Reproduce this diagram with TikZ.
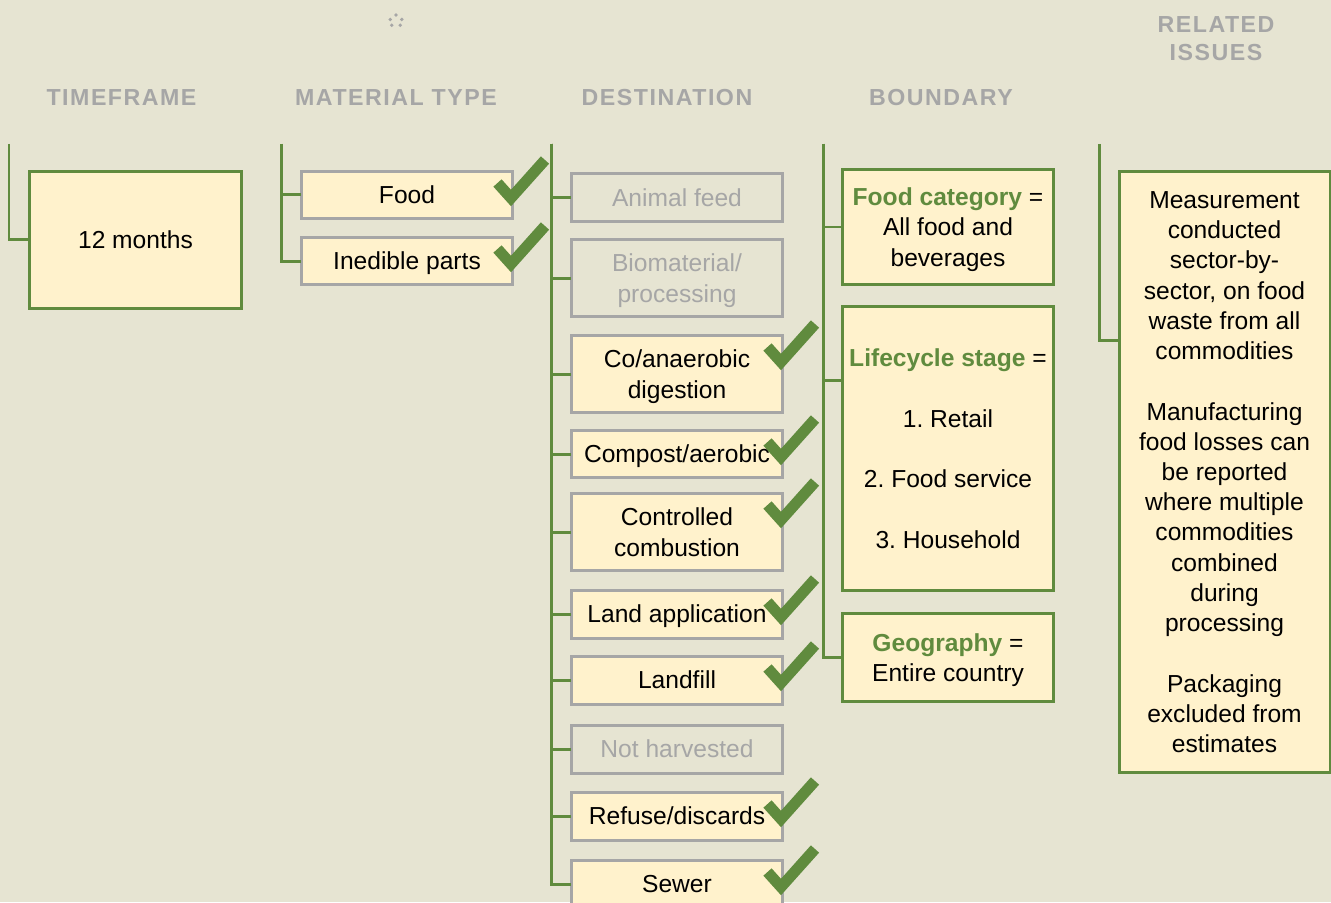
\documentclass[tikz,border=0pt]{standalone}
\usepackage{fontspec}
\setmainfont{Liberation Sans}
\newfontfamily\headfont[LetterSpace=6.5]{Liberation Sans}
\definecolor{paper}{RGB}{230,228,210}
\definecolor{cream}{RGB}{255,242,204}
\definecolor{leaf}{RGB}{96,139,62}
\definecolor{stone}{RGB}{166,166,166}
\frenchspacing
\begin{document}
\begin{tikzpicture}[x=0.02cm, y=-0.02cm,
        head/.style={font=\headfont\fontsize{13.2}{15.9}\selectfont\bfseries, text=stone, align=center},
        keybox/.style={draw=leaf, line width=0.06cm, fill=cream, outer sep=0pt, inner sep=2pt,
            minimum width=4.24cm, align=center, text depth=0pt, font=\fontsize{14}{17.2}\selectfont},
        itembox/.style={keybox, draw=stone, minimum height=0.96cm},
        offitem/.style={itembox, fill=none, text=stone},
        branch/.style={draw=leaf, line width=0.06cm},
        tick/.style={draw=leaf, line width=0.22cm, line join=miter}]
                \fill [paper] (0,0) rectangle (1331,902);
                \useasboundingbox (0,0) rectangle (1331,902);
                \foreach \a in {45,135,195,270,345}
                    \fill [stone] (396,21) ++(\a:6) circle (1.9);
                \node [head] (hTime) at (121.5,97.5) {TIMEFRAME};
                \node [head] (hMat) at (396,97.5) {MATERIAL TYPE};
                \node [head] (hDest) at (667,97.5) {DESTINATION};
                \node [head] (hBound) at (941,97.5) {BOUNDARY};
                \node [head] (hRel) at (1216,39) {RELATED\\ISSUES};
                \node [keybox, minimum height=2.74cm] (months) at (135.5,239.7) {12 months};
                \node [itembox] (food) at (407,195) {Food};
                \node [itembox] (inedible) at (407,261) {Inedible parts};
                \node [offitem] (feed) at (677,197.5) {Animal feed};
                \node [offitem, minimum height=1.56cm] (bio) at (677,278) {Biomaterial/\\processing};
                \node [itembox, minimum height=1.56cm] (codig) at (677,374) {Co/anaerobic\\digestion};
                \node [itembox] (compost) at (677,454) {Compost/aerobic};
                \node [itembox, minimum height=1.56cm] (combust) at (677,532) {Controlled\\combustion};
                \node [itembox] (landapp) at (677,614) {Land application};
                \node [itembox] (landfill) at (677,680) {Landfill};
                \node [offitem] (notharv) at (677,749) {Not harvested};
                \node [itembox] (refuse) at (677,816) {Refuse/discards};
                \node [itembox] (sewer) at (677,884) {Sewer};
                \node [keybox, minimum height=2.32cm] (category) at (948,227)
                    {\textcolor{leaf}{\bfseries Food category} =\\All food and\\beverages};
                \node [keybox, minimum height=5.7cm] (stage) at (948,448.5)
                    {\textcolor{leaf}{\bfseries Lifecycle stage} =\\[17.2pt]1. Retail\\[17.2pt]2. Food service\\[17.2pt]3. Household};
                \node [keybox, minimum height=1.78cm] (geo) at (948,657.5)
                    {\textcolor{leaf}{\bfseries Geography} =\\Entire country};
                \node [keybox, minimum width=4.22cm, minimum height=12.04cm] (issues) at (1224.5,472)
                    {Measurement\\conducted\\sector-by-\\sector, on food\\waste from all\\commodities\\[17.2pt]
                     Manufacturing\\food losses can\\be reported\\where multiple\\commodities\\combined\\during\\processing\\[17.2pt]
                     Packaging\\excluded from\\estimates};
                \foreach \n in {food,inedible,codig,compost,combust,landapp,landfill,refuse,sewer}
                    \draw [tick] ([shift={(-15.5,12)}]\n.north east) -- ([shift={(-2,27)}]\n.north east)
                        -- ([shift={(32,-11)}]\n.north east);
                \coordinate (tTop) at (9,144);
                \coordinate (mTop) at (281,144);
                \coordinate (dTop) at (551,144);
                \coordinate (bTop) at (823,144);
                \coordinate (rTop) at (1099,144);
                \draw [branch] (tTop) |- (months.west);
                \foreach \n in {food,inedible}
                    \draw [branch] (mTop) |- (\n.west);
                \foreach \n in {feed,bio,codig,compost,combust,landapp,landfill,notharv,refuse,sewer}
                    \draw [branch] (dTop) |- (\n.west);
                \draw [branch] (bTop) |- (category.west);
                \draw [branch] (bTop) |- ([yshift=1.37cm]stage.west);
                \draw [branch] (bTop) |- (geo.west);
                \draw [branch] (rTop) |- ([yshift=2.64cm]issues.west);
\end{tikzpicture}
\end{document}
